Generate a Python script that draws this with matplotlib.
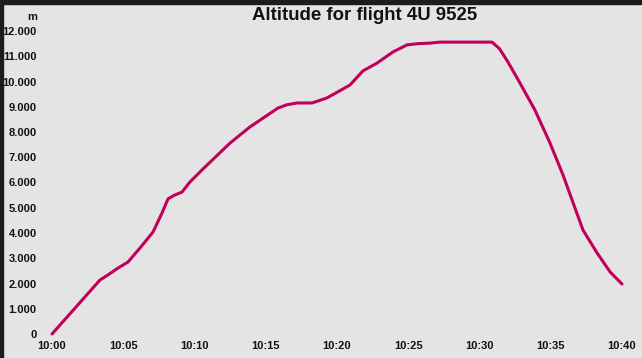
import matplotlib.pyplot as plt
from matplotlib.patches import Rectangle

# Flight data: minutes after 10:00 and altitude in metres
minutes = [0, 3.37, 3.93, 4.6, 5.33, 6.18, 7.09, 7.72, 8.14, 8.6, 9.12, 9.68, 10.53,
           12.49, 13.89, 15.86, 16.5, 17.19, 18.25, 19.30, 20.91, 21.82, 22.81,
           23.93, 24.91, 25.7, 26.53, 27.23, 30.88, 31.4, 32.0, 32.84, 33.89, 34.95,
           35.86, 36.70, 37.26, 38.25, 39.16, 40.0]
altitude = [0, 2140, 2340, 2600, 2850, 3410, 4040, 4790, 5350, 5500, 5620, 6020, 6500,
            7560, 8200, 8950, 9080, 9150, 9150, 9350, 9860, 10420, 10730,
            11170, 11450, 11500, 11520, 11560, 11560, 11300, 10770, 9940, 8870, 7560,
            6300, 4990, 4120, 3210, 2460, 1980]

x_ticks = [0, 5, 10, 15, 20, 25, 30, 35, 40]
x_labels = ["10:00", "10:05", "10:10", "10:15", "10:20", "10:25", "10:30", "10:35", "10:40"]
y_ticks = list(range(0, 13000, 1000))
y_labels = ["0"] + [f"{v // 1000}.000" for v in y_ticks[1:]]

bg = "#e4e4e4"
fig = plt.figure(figsize=(6.42, 3.58), dpi=100, facecolor=bg)
ax = fig.add_axes([52 / 642, 1 - 334 / 358, 570 / 642, 303 / 358])
ax.set_facecolor(bg)

# dark frame strips on top and left edge
fig.patches.append(Rectangle((0, 1 - 4 / 358), 1, 4 / 358, transform=fig.transFigure,
                             color="#1c1c1c", zorder=0))
fig.patches.append(Rectangle((0, 0), 3 / 642, 1, transform=fig.transFigure,
                             color="#1c1c1c", zorder=0))

ax.plot(minutes, altitude, color="#c0005a", lw=2.2, solid_capstyle="round",
        solid_joinstyle="round", clip_on=False)

ax.set_xlim(0, 40)
ax.set_ylim(0, 12000)
for s in ax.spines.values():
    s.set_visible(False)

font = dict(family="Liberation Sans", weight="bold", size=8, color="#111111")
ax.set_xticks(x_ticks)
ax.set_xticklabels(x_labels, **font)
ax.set_yticks(y_ticks)
ax.set_yticklabels(y_labels, **font)
ax.tick_params(length=0)
ax.tick_params(axis="x", pad=5)
ax.tick_params(axis="y", pad=11)

fig.text(37 / 642, 1 - 17 / 358, "m", ha="right", va="center", **font)
fig.text(365 / 642, 1 - 16 / 358, "Altitude for flight 4U 9525", ha="center", va="center",
         family="Liberation Sans", weight="bold", size=13.4, color="#111111")

fig.savefig("out.png", dpi=100, facecolor=bg)
